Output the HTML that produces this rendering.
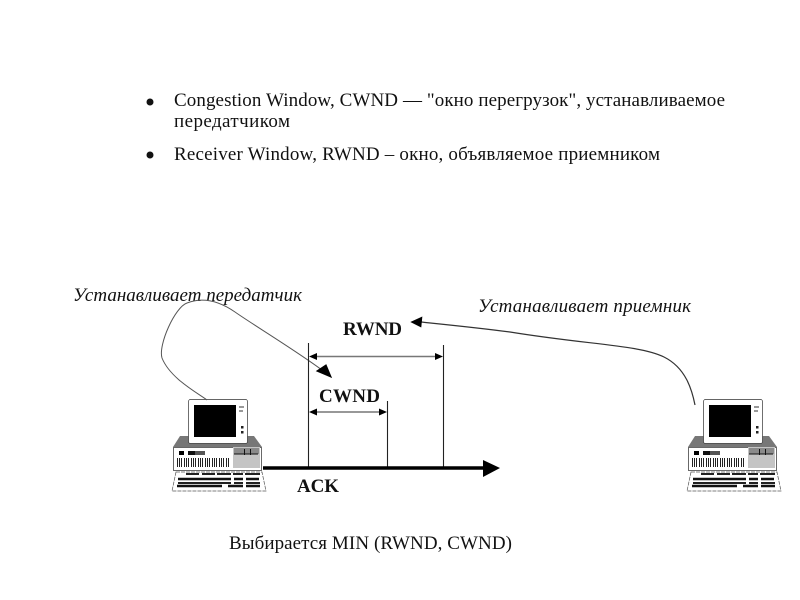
<!DOCTYPE html>
<html><head><meta charset="utf-8"><style>
html,body{margin:0;padding:0;background:#fff}
svg{display:block}
text{font-family:"Liberation Serif","DejaVu Serif",serif;fill:#111}
</style></head><body>
<svg width="800" height="600" viewBox="0 0 800 600" xmlns="http://www.w3.org/2000/svg">
<defs>
<g id="pc">
  <path d="M173 447L180 436H254L262 447Z" fill="#777"/>
  <rect x="173.500" y="447.500" width="88" height="23" fill="#fff" stroke="#444" stroke-width=".8"/>
  <rect x="179" y="451" width="5" height="4" fill="#000"/>
  <rect x="188" y="451" width="7" height="4" fill="#111"/>
  <rect x="195" y="451" width="10" height="4" fill="#555"/>
  <path d="M177.500 458V467M179.500 458V467M181.500 458V467M184.500 458V467M186.500 458V467M188.500 458V467M191.500 458V467M193.500 458V467M195.500 458V467M198.500 458V467M200.500 458V467M202.500 458V467M205.500 458V467M207.500 458V467M209.500 458V467M212.500 458V467M214.500 458V467M216.500 458V467M219.500 458V467M221.500 458V467M223.500 458V467M226.500 458V467M228.500 458V467" stroke="#222" stroke-width="1"/>
  <rect x="233" y="447" width="27" height="21" fill="#c4c4c4"/>
  <rect x="234" y="448" width="25" height="6" fill="#8a8a8a"/>
  <path d="M234 454H258M244.500 449V455M250.500 449V455" stroke="#111" stroke-width="1"/>
  <rect x="188.500" y="399.500" width="59" height="44" rx="2" fill="#fff" stroke="#333" stroke-width=".7"/>
  <rect x="194" y="405" width="42" height="32" fill="#000"/>
  <path d="M239 407H244M239 411H243" stroke="#333"/>
  <rect x="241" y="426" width="2.500" height="2.500" fill="#222"/>
  <rect x="241" y="431" width="2.500" height="2.500" fill="#222"/>
  <path d="M176 472H262L266 491H172Z" fill="#fff" stroke="#555" stroke-width=".7" stroke-dasharray="4 1"/>
  <path d="M186 474H199M202 474H215M217 474H231M233 474H243M245 474H260" stroke="#222" stroke-width="2"/>
  <path d="M178 479H231M234 479H243M246 479H259" stroke="#111" stroke-width="2.500"/>
  <path d="M178 483H231M234 483H243M246 483H260" stroke="#222" stroke-width="2"/>
  <path d="M177 486H222M228 486H243M246 486H260" stroke="#111" stroke-width="2.500"/>
</g>
</defs>
<rect width="800" height="600" fill="#fff"/>

<circle cx="150" cy="102" r="3.500" fill="#111"/>
<circle cx="150" cy="155" r="3.500" fill="#111"/>
<text x="174" y="106" font-size="19" textLength="551" lengthAdjust="spacing">Congestion Window, CWND — "окно перегрузок", устанавливаемое</text>
<text x="174" y="127" font-size="19" textLength="116" lengthAdjust="spacing">передатчиком</text>
<text x="174" y="160" font-size="19" textLength="486" lengthAdjust="spacing">Receiver Window, RWND – окно, объявляемое приемником</text>

<text x="73" y="301" font-size="19" font-style="italic" textLength="229" lengthAdjust="spacing">Устанавливает передатчик</text>
<text x="478" y="312" font-size="19" font-style="italic" textLength="213" lengthAdjust="spacing">Устанавливает приемник</text>

<use href="#pc"/>
<use href="#pc" x="515"/>

<path d="M207 400C196 392 170 378 162 358C158 345 175 307 187 303C205 296 222 303 235 312C252 324 295 350 322 370" fill="none" stroke="#555" stroke-width="1"/>
<path d="M331 377L317 371L326 365Z" fill="#000" stroke="#000" stroke-width="1.200"/>
<path d="M695 405C692 390 686 368 664 357C640 345 590 345 510 332C480 328 450 325 421 322" fill="none" stroke="#333" stroke-width="1.200"/>
<path d="M411 322L422 317L421 327Z" fill="#000" stroke="#000" stroke-width=".6"/>

<path d="M308.500 343V467M443.500 345V467M387.500 401V467" stroke="#222" stroke-width="1.100"/>
<path d="M315 356.500H437" stroke="#777" stroke-width="1.600"/>
<path d="M309 356.500L317 353V360ZM443 356.500L435 353V360Z" fill="#000"/>
<path d="M315 412H381" stroke="#777" stroke-width="1.600"/>
<path d="M309 412L317 408.500V415.500ZM387 412L379 408.500V415.500Z" fill="#000"/>
<path d="M263 468H485" stroke="#000" stroke-width="3.500"/>
<path d="M483 460L500 468L483 477Z" fill="#000"/>

<text x="343" y="335" font-size="19" font-weight="bold" textLength="59" lengthAdjust="spacing">RWND</text>
<text x="319" y="402" font-size="19" font-weight="bold" textLength="61" lengthAdjust="spacing">CWND</text>
<text x="297" y="492" font-size="19" font-weight="bold" textLength="42" lengthAdjust="spacing">ACK</text>
<text x="229" y="549" font-size="19" textLength="283" lengthAdjust="spacing">Выбирается MIN (RWND, CWND)</text>
</svg>
</body></html>
